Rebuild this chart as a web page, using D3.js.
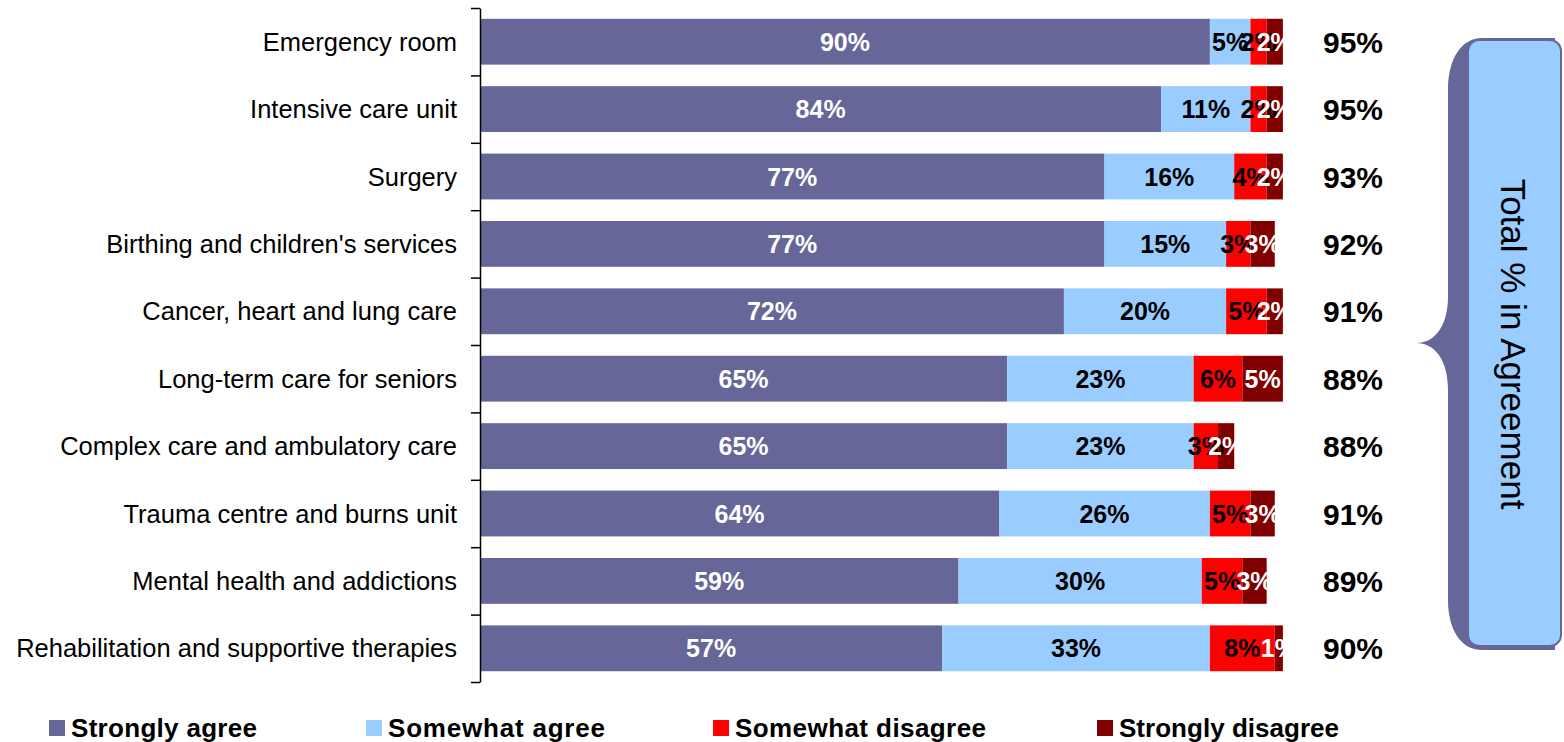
<!DOCTYPE html>
<html><head><meta charset="utf-8">
<script src="https://cdn.jsdelivr.net/npm/d3@7"></script>
<style>body{margin:0;background:#fff;} svg{display:block;font-family:"Liberation Sans",Arial,sans-serif;}</style>
</head><body>
<svg id="chart" width="1564" height="742"></svg>
<script>
const categories = ["Emergency room","Intensive care unit","Surgery","Birthing and children's services","Cancer, heart and lung care","Long-term care for seniors","Complex care and ambulatory care","Trauma centre and burns unit","Mental health and addictions","Rehabilitation and supportive therapies"];
const seriesNames = ["Strongly agree","Somewhat agree","Somewhat disagree","Strongly disagree"];
const stronglyAgree    = [90,84,77,77,72,65,65,64,59,57];
const somewhatAgree    = [5,11,16,15,20,23,23,26,30,33];
const somewhatDisagree = [2,2,4,3,5,6,3,5,5,8];
const stronglyDisagree = [2,2,2,3,2,5,2,3,3,1];
const totalAgreement   = [95,95,93,92,91,88,88,91,89,90];
const calloutTitle = "Total % in Agreement";

const colors = ["#666699","#99CCFF","#FF0000","#800000"];
const labelColors = ["#ffffff","#000000","#000000","#ffffff"];
const series = [stronglyAgree, somewhatAgree, somewhatDisagree, stronglyDisagree];

const svg = d3.select("#chart");

const x = d3.scaleLinear().domain([0,100]).range([480,1291]);
const y = d3.scaleBand().domain(categories).range([8,682]).paddingInner(0.32).paddingOuter(0.16);

// stacked data
const rows = categories.map((c,i)=>{
  let acc = 0;
  return series.map((s,k)=>{ const seg = {cat:c, k, v:s[i], x0:acc, x1:acc+s[i]}; acc += s[i]; return seg; });
});

const g = svg.append("g");
rows.forEach(r=>{
  g.selectAll(null).data(r).enter().append("rect")
    .attr("x",d=>x(d.x0)).attr("width",d=>x(d.x1)-x(d.x0))
    .attr("y",d=>y(d.cat)).attr("height",y.bandwidth())
    .attr("fill",d=>colors[d.k]);
});
rows.forEach(r=>{
  g.selectAll(null).data(r).enter().append("text")
    .attr("x",d=>(x(d.x0)+x(d.x1))/2)
    .attr("y",d=>y(d.cat)+y.bandwidth()/2+9)
    .attr("text-anchor","middle")
    .attr("font-size",25).attr("font-weight","bold")
    .attr("fill",d=>labelColors[d.k])
    .text(d=>d.v+"%");
});

// axis with ticks at band boundaries
const yb = d3.scaleLinear().domain([0,categories.length]).range([8,682]);
svg.append("g").attr("transform","translate(480,0)")
  .call(d3.axisLeft(yb).tickValues(d3.range(0,categories.length+1)).tickFormat("").tickSize(9).tickSizeOuter(0))
  .call(a=>{a.selectAll("path,line").attr("stroke","#000").attr("stroke-width",1.5);});

// category labels
svg.append("g").selectAll("text").data(categories).enter().append("text")
  .attr("x",457).attr("y",d=>y(d)+y.bandwidth()/2+9)
  .attr("text-anchor","end").attr("font-size",25.5).attr("fill","#000")
  .text(d=>d);

// totals
svg.append("g").selectAll("text").data(totalAgreement).enter().append("text")
  .attr("x",1353).attr("y",(d,i)=>y(categories[i])+y.bandwidth()/2+11)
  .attr("text-anchor","middle").attr("font-size",30).attr("font-weight","bold").attr("fill","#000")
  .text(d=>d+"%");

// callout
const back = d3.path();
back.moveTo(1482,38);
back.lineTo(1555,38);
back.lineTo(1555,650);
back.lineTo(1482,650);
back.bezierCurveTo(1460,650,1448,628,1448,600);
back.lineTo(1448,390);
back.bezierCurveTo(1448,360,1435,343,1416,343);
back.bezierCurveTo(1435,343,1448,326,1448,296);
back.lineTo(1448,90);
back.bezierCurveTo(1448,58,1462,38,1482,38);
back.closePath();
svg.append("path").attr("d",back.toString()).attr("fill","#666699");
svg.append("rect").attr("x",1468).attr("y",40).attr("width",93).attr("height",606).attr("rx",11)
  .attr("fill","#99CCFF").attr("stroke","#666699").attr("stroke-width",2);
svg.append("text").attr("transform","translate(1501,344) rotate(90)")
  .attr("text-anchor","middle").attr("font-size",35).attr("fill","#000").text(calloutTitle);

// legend
const legendX = [49,366,713,1097];
const legendW = [186,217,251,220];
const lg = svg.append("g");
seriesNames.forEach((n,k)=>{
  lg.append("rect").attr("x",legendX[k]).attr("y",720).attr("width",16).attr("height",16).attr("fill",colors[k]);
  lg.append("text").attr("x",legendX[k]+22).attr("y",737).attr("font-size",26).attr("font-weight","bold")
    .attr("textLength",legendW[k]).attr("lengthAdjust","spacing").attr("fill","#000").text(n);
});
</script>
</body></html>
